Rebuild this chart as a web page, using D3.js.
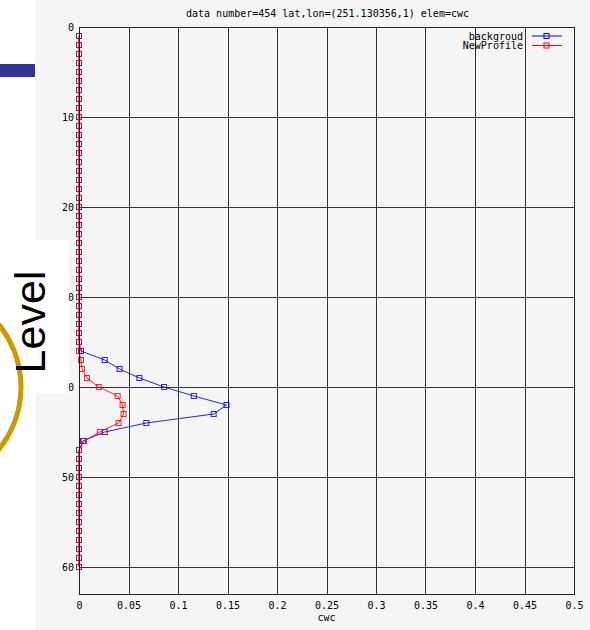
<!DOCTYPE html>
<html><head><meta charset="utf-8">
<script src="https://cdn.jsdelivr.net/npm/d3@7"></script>
<style>html,body{margin:0;padding:0;background:#fff;}svg{display:block;}</style>
</head><body>
<script>
const levels = [1,2,3,4,5,6,7,8,9,10,11,12,13,14,15,16,17,18,19,20,21,22,23,24,25,26,27,28,29,30,31,32,33,34,35,36,37,38,39,40,41,42,43,44,45,46,47,48,49,50,51,52,53,54,55,56,57,58,59,60];
const background = [0,0,0,0,0,0,0,0,0,0, 0,0,0,0,0,0,0,0,0,0, 0,0,0,0,0,0,0,0,0,0, 0,0,0,0,0,0.002,0.026,0.041,0.061,0.086, 0.116,0.149,0.136,0.068,0.026,0.004,0,0,0,0, 0,0,0,0,0,0,0,0,0,0];
const newProfile = [0,0,0,0,0,0,0,0,0,0, 0,0,0,0,0,0,0,0,0,0, 0,0,0,0,0,0,0,0,0,0, 0,0,0,0,0,0,0.002,0.003,0.008,0.020, 0.039,0.044,0.045,0.040,0.021,0.005,0,0,0,0, 0,0,0,0,0,0,0,0,0,0];
const xTicks = [0,0.05,0.1,0.15,0.2,0.25,0.3,0.35,0.4,0.45,0.5];
const xTickLabels = ["0","0.05","0.1","0.15","0.2","0.25","0.3","0.35","0.4","0.45","0.5"];
const yTicks = [0,10,20,30,40,50,60];
const seriesNames = ["backgroud","NewProfile"];
const seriesColors = ["#0000ff","#ff0000"];
const titleText = "data number=454 lat,lon=(251.130356,1) elem=cwc";
const xLabel = "cwc";
const sideLabel = "Level";

const W = 590, H = 630;
const svg = d3.select("body").append("svg").attr("width", W).attr("height", H);
const mono = "'DejaVu Sans Mono', monospace";

// slide + chart backgrounds
svg.append("rect").attr("x",0).attr("y",0).attr("width",W).attr("height",H).attr("fill","#ffffff");
svg.append("rect").attr("x",35).attr("y",0).attr("width",W-35).attr("height",H).attr("fill","#f5f5f5");

const x = d3.scaleLinear().domain([0,0.5]).range([79,574]);
const y = d3.scaleLinear().domain([0,63]).range([27,594]);

// grid
const g = svg.append("g").attr("shape-rendering","crispEdges");
g.selectAll("line.vx").data(xTicks).enter().append("line")
  .attr("x1",d=>Math.round(x(d))+0.5).attr("x2",d=>Math.round(x(d))+0.5)
  .attr("y1",y(0)).attr("y2",y(63)).attr("stroke","#333").attr("stroke-width",1);
g.selectAll("line.hy").data(yTicks).enter().append("line")
  .attr("y1",d=>Math.round(y(d))+0.5).attr("y2",d=>Math.round(y(d))+0.5)
  .attr("x1",x(0)).attr("x2",x(0.5)).attr("stroke","#333").attr("stroke-width",1);

// axes labels via d3 axes
const xAxis = d3.axisBottom(x).tickValues(xTicks).tickFormat((d,i)=>xTickLabels[i]).tickSize(0).tickPadding(8);
const xa = svg.append("g").attr("transform",`translate(0,${y(63)})`).call(xAxis);
xa.select(".domain").remove();
xa.selectAll("text").attr("font-family",mono).attr("font-size",10).attr("fill","#000");

const yAxis = d3.axisLeft(y).tickValues(yTicks).tickSize(0).tickPadding(5);
const ya = svg.append("g").attr("transform",`translate(${x(0)},0)`).call(yAxis);
ya.select(".domain").remove();
ya.selectAll("text").attr("font-family",mono).attr("font-size",10).attr("fill","#000");

// title and x label
svg.append("text").attr("x",(x(0)+x(0.5))/2+1).attr("y",17).attr("text-anchor","middle")
  .attr("font-family",mono).attr("font-size",10).text(titleText);
svg.append("text").attr("x",(x(0)+x(0.5))/2).attr("y",621).attr("text-anchor","middle")
  .attr("font-family",mono).attr("font-size",10).text(xLabel);

// data
const series = [background, newProfile];
const line = d3.line().x(d=>x(d[1])).y(d=>y(d[0]));
series.forEach((vals,si)=>{
  const pts = levels.map((l,i)=>[l, vals[i]]);
  svg.append("path").attr("d",line(pts)).attr("fill","none")
    .attr("stroke",seriesColors[si]).attr("stroke-width",1).attr("stroke-opacity",0.85);
  svg.append("g").selectAll("rect").data(pts).enter().append("rect")
    .attr("x",d=>x(d[1])-2.5).attr("y",d=>y(d[0])-2.5).attr("width",5).attr("height",5)
    .attr("fill","none").attr("stroke",seriesColors[si]).attr("stroke-width",1).attr("stroke-opacity",0.85);
});

// border
svg.append("rect").attr("x",x(0)+0.5).attr("y",y(0)+0.5).attr("width",x(0.5)-x(0)).attr("height",y(63)-y(0))
  .attr("fill","none").attr("stroke","#222").attr("stroke-width",1).attr("shape-rendering","crispEdges");

// legend
seriesNames.forEach((n,i)=>{
  const ly = 36 + i*9.5;
  svg.append("text").attr("x",523).attr("y",ly+3.5).attr("text-anchor","end")
    .attr("font-family",mono).attr("font-size",10).text(n);
  svg.append("line").attr("x1",532).attr("x2",562).attr("y1",ly).attr("y2",ly)
    .attr("stroke",seriesColors[i]).attr("stroke-width",1);
  svg.append("rect").attr("x",544).attr("y",ly-2.5).attr("width",5).attr("height",5)
    .attr("fill","none").attr("stroke",seriesColors[i]).attr("stroke-width",1);
});

// slide overlays
svg.append("rect").attr("x",0).attr("y",64).attr("width",35).attr("height",13).attr("fill","#333399");
svg.append("rect").attr("x",35).attr("y",240).attr("width",33.5).attr("height",153).attr("fill","#ffffff");
svg.append("circle").attr("cx",-78).attr("cy",387).attr("r",99).attr("fill","none")
  .attr("stroke","#cc9900").attr("stroke-width",5);
svg.append("text").attr("transform","translate(45,322) rotate(-90)").attr("text-anchor","middle")
  .attr("font-family","'Liberation Sans', Arial, sans-serif").attr("font-size",43).attr("fill","#000").text(sideLabel);
</script>
</body></html>
